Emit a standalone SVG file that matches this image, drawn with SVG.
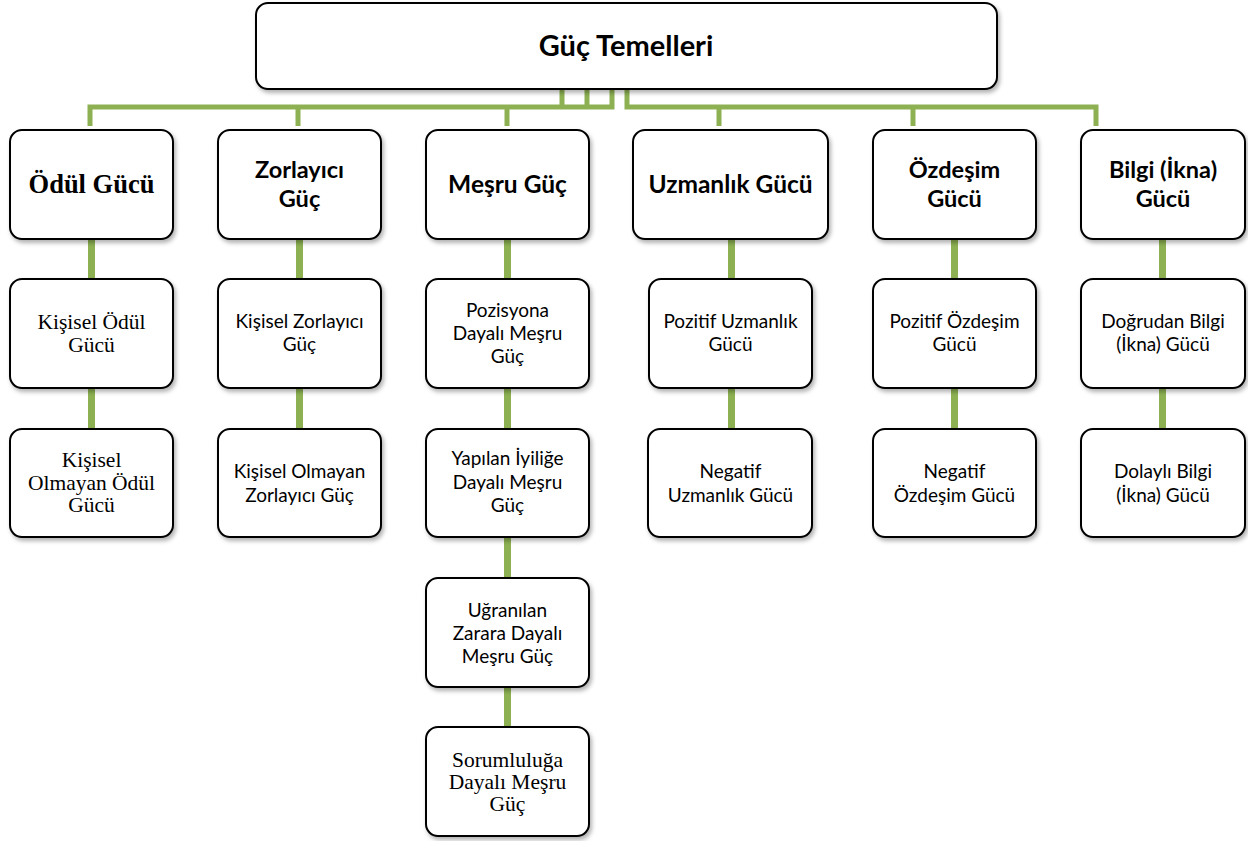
<svg xmlns="http://www.w3.org/2000/svg" width="1248" height="841" viewBox="0 0 1248 841">
<defs>
<filter id="sh" x="-10%" y="-10%" width="125%" height="130%">
<feDropShadow dx="2" dy="3" stdDeviation="2" flood-color="#000" flood-opacity="0.3"/>
</filter>
<style>
.box{fill:#fff;stroke:#000;stroke-width:2;filter:url(#sh)}
.bus{fill:none;stroke:#8DB152;stroke-width:5}
.vc{stroke:#8DB152;stroke-width:7}
.c{font-family:Lato,"Liberation Sans",sans-serif;fill:#000;text-anchor:middle}
.t{font-family:"Liberation Serif",serif;fill:#000;text-anchor:middle}
.h0{font-size:29px;font-weight:bold}
.h1{font-size:26.5px;font-weight:bold}
.h2{font-size:24.5px;font-weight:bold}
.h3{font-size:23.5px;font-weight:bold}
.s{font-size:19px}
.st{font-size:21.5px}
</style>
</defs>
<g id="connectors">
<path class="bus" d="M90 126V107H612V89M562 89V107M587 89V107"/>
<path class="bus" d="M627 89V107H1096V126"/>
<path class="bus" d="M298 107V126M507 107V126M719 107V126M913 107V126"/>
<line class="vc" x1="91.5" y1="239" x2="91.5" y2="279"/>
<line class="vc" x1="91.5" y1="388" x2="91.5" y2="429"/>
<line class="vc" x1="299.5" y1="239" x2="299.5" y2="279"/>
<line class="vc" x1="299.5" y1="388" x2="299.5" y2="429"/>
<line class="vc" x1="507.5" y1="239" x2="507.5" y2="279"/>
<line class="vc" x1="507.5" y1="388" x2="507.5" y2="429"/>
<line class="vc" x1="507.5" y1="537" x2="507.5" y2="578"/>
<line class="vc" x1="507.5" y1="687" x2="507.5" y2="727"/>
<line class="vc" x1="731.5" y1="239" x2="731.5" y2="279"/>
<line class="vc" x1="731.5" y1="388" x2="731.5" y2="429"/>
<line class="vc" x1="954.5" y1="239" x2="954.5" y2="279"/>
<line class="vc" x1="954.5" y1="388" x2="954.5" y2="429"/>
<line class="vc" x1="1162.5" y1="239" x2="1162.5" y2="279"/>
<line class="vc" x1="1162.5" y1="388" x2="1162.5" y2="429"/>
</g>
<g id="root"><rect class="box" x="256" y="3" width="741" height="86" rx="12"/><text class="c h0" x="626" y="56">Güç Temelleri</text></g>
<g id="odul"><rect class="box" x="10" y="130" width="163" height="109" rx="12"/><text class="t h1" x="91.5" y="193">Ödül Gücü</text></g>
<g id="zorlayici"><rect class="box" x="218" y="130" width="163" height="109" rx="12"/><text class="c h3" x="299.5" y="178">Zorlayıcı<tspan x="299.5" dy="28.5">Güç</tspan></text></g>
<g id="mesru"><rect class="box" x="426" y="130" width="163" height="109" rx="12"/><text class="c h2" x="507.5" y="193">Meşru Güç</text></g>
<g id="uzmanlik"><rect class="box" x="633" y="130" width="195" height="109" rx="12"/><text class="c h2" x="730.5" y="193">Uzmanlık Gücü</text></g>
<g id="ozdesim"><rect class="box" x="873" y="130" width="163" height="109" rx="12"/><text class="c h3" x="954.5" y="178">Özdeşim<tspan x="954.5" dy="28.5">Gücü</tspan></text></g>
<g id="bilgi"><rect class="box" x="1081" y="130" width="164" height="109" rx="12"/><text class="c h3" x="1163" y="178">Bilgi (İkna)<tspan x="1163" dy="28.5">Gücü</tspan></text></g>

<g id="kisisel-odul"><rect class="box" x="10" y="279" width="163" height="109" rx="12"/><text class="t st" x="91.5" y="329">Kişisel Ödül<tspan x="91.5" dy="23">Gücü</tspan></text></g>
<g id="kisisel-olmayan-odul"><rect class="box" x="10" y="429" width="163" height="108" rx="12"/><text class="t st" x="91.5" y="467">Kişisel<tspan x="91.5" dy="23">Olmayan Ödül</tspan><tspan x="91.5" dy="22">Gücü</tspan></text></g>

<g id="kisisel-zorlayici"><rect class="box" x="218" y="279" width="163" height="109" rx="12"/><text class="c s" x="299.5" y="328">Kişisel Zorlayıcı<tspan x="299.5" dy="23">Güç</tspan></text></g>
<g id="kisisel-olmayan-zorlayici"><rect class="box" x="218" y="429" width="163" height="108" rx="12"/><text class="c s" x="299.5" y="478">Kişisel Olmayan<tspan x="299.5" dy="24">Zorlayıcı Güç</tspan></text></g>

<g id="pozisyon"><rect class="box" x="426" y="279" width="163" height="109" rx="12"/><text class="c s" x="507.5" y="317">Pozisyona<tspan x="507.5" dy="23">Dayalı Meşru</tspan><tspan x="507.5" dy="23">Güç</tspan></text></g>
<g id="iyilik"><rect class="box" x="426" y="429" width="163" height="108" rx="12"/><text class="c s" x="507.5" y="465">Yapılan İyiliğe<tspan x="507.5" dy="24">Dayalı Meşru</tspan><tspan x="507.5" dy="23">Güç</tspan></text></g>
<g id="zarar"><rect class="box" x="426" y="578" width="163" height="109" rx="12"/><text class="c s" x="507.5" y="617">Uğranılan<tspan x="507.5" dy="23">Zarara Dayalı</tspan><tspan x="507.5" dy="23">Meşru Güç</tspan></text></g>
<g id="sorumluluk"><rect class="box" x="426" y="727" width="163" height="109" rx="12"/><text class="t st" x="507.5" y="767">Sorumluluğa<tspan x="507.5" dy="22">Dayalı Meşru</tspan><tspan x="507.5" dy="22">Güç</tspan></text></g>

<g id="pozitif-uzmanlik"><rect class="box" x="649" y="279" width="163" height="109" rx="12"/><text class="c s" x="730.5" y="328">Pozitif Uzmanlık<tspan x="730.5" dy="23">Gücü</tspan></text></g>
<g id="negatif-uzmanlik"><rect class="box" x="648" y="429" width="164" height="108" rx="12"/><text class="c s" x="730.5" y="478">Negatif<tspan x="730.5" dy="24">Uzmanlık Gücü</tspan></text></g>

<g id="pozitif-ozdesim"><rect class="box" x="873" y="279" width="163" height="109" rx="12"/><text class="c s" x="954.5" y="328">Pozitif Özdeşim<tspan x="954.5" dy="23">Gücü</tspan></text></g>
<g id="negatif-ozdesim"><rect class="box" x="873" y="429" width="163" height="108" rx="12"/><text class="c s" x="954.5" y="478">Negatif<tspan x="954.5" dy="24">Özdeşim Gücü</tspan></text></g>

<g id="dogrudan-bilgi"><rect class="box" x="1081" y="279" width="164" height="109" rx="12"/><text class="c s" x="1163" y="328">Doğrudan Bilgi<tspan x="1163" dy="23">(İkna) Gücü</tspan></text></g>
<g id="dolayli-bilgi"><rect class="box" x="1081" y="429" width="164" height="108" rx="12"/><text class="c s" x="1163" y="478">Dolaylı Bilgi<tspan x="1163" dy="24">(İkna) Gücü</tspan></text></g>
</svg>
